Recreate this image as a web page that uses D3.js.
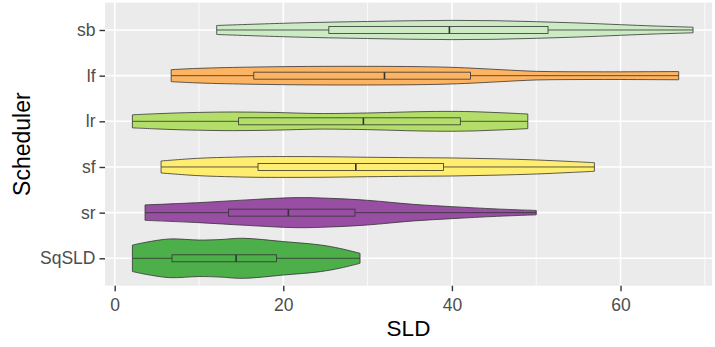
<!DOCTYPE html>
<html>
<head>
<meta charset="utf-8">
<script src="https://cdn.jsdelivr.net/npm/d3@7"></script>
<style>
  body { margin: 0; background: #fff; }
  text { font-family: "Liberation Sans", Arial, sans-serif; }
</style>
</head>
<body>
<svg class="main" width="715" height="347"></svg>
<script>
var SCHEDULERS = ["sb", "lf", "lr", "sf", "sr", "SqSLD"];
var COLORS = ["#CCEBC5", "#FDB462", "#B3DE69", "#FFED6F", "#984EA3", "#4DAF4A"];
var X_TICKS = [0, 20, 40, 60];

// boxplot stats: [min, q1, median, q3, max]
var STATS_SB = [12.1, 25.4, 39.7, 51.4, 68.6];
var STATS_LF = [6.7, 16.5, 32.0, 42.2, 66.9];
var STATS_LR = [2.1, 14.7, 29.5, 41.0, 49.0];
var STATS_SF = [5.5, 17.0, 28.6, 39.0, 56.9];
var STATS_SR = [3.6, 13.5, 20.6, 28.5, 50.0];
var STATS_SQ = [2.1, 6.8, 14.4, 19.2, 29.1];

// estimated density along SLD: [SLD, density]
var DENS_SB = [[12.1, 4.5], [20, 6.7], [25.4, 7.8], [30, 8.5], [35, 9.2], [40, 9.6], [45, 9.3], [50, 8.3], [55, 7.0], [60, 5.3], [64, 4.0], [68.6, 2.8]];
var DENS_LF = [[6.7, 6.0], [10, 7.3], [16.5, 8.6], [23, 9.2], [30, 9.3], [36, 9.0], [40, 8.3], [43, 7.2], [46, 5.9], [50, 4.3], [54, 3.9], [58, 3.8], [62, 3.9], [66.9, 4.1]];
var DENS_LR = [[2.1, 6.5], [5, 7.6], [8.5, 8.6], [14, 9.3], [19, 8.8], [24, 7.8], [27, 7.9], [31, 8.5], [36, 9.6], [40, 9.9], [43, 9.5], [46, 8.5], [49, 7.3]];
var DENS_SF = [[5.5, 6.0], [10, 8.7], [14, 9.8], [17, 10.3], [24, 10.3], [30, 9.7], [35, 9.3], [40, 9.0], [45, 8.2], [50, 7.0], [54, 5.5], [56.9, 4.3]];
var DENS_SR = [[3.6, 7.7], [10, 10.0], [15.6, 12.7], [21.6, 15.0], [25.5, 14.3], [30, 12.3], [35.4, 8.3], [40, 6.0], [45.3, 3.7], [50, 2.2]];
var DENS_SQ = [[2.1, 13.2], [3.7, 16], [6.5, 19.3], [10, 18.2], [12.5, 18.7], [15.2, 20], [20, 16.7], [24.4, 13.3], [26.8, 9.7], [29.1, 5]];

var STATS = [STATS_SB, STATS_LF, STATS_LR, STATS_SF, STATS_SR, STATS_SQ];
var DENS = [DENS_SB, DENS_LF, DENS_LR, DENS_SF, DENS_SR, DENS_SQ];

var svg = d3.select("svg.main");
var panel = { left: 105, top: 2.6, right: 712, bottom: 285.7 };

var x = d3.scaleLinear().domain([-1.15, 70.85]).range([panel.left, panel.right]);
var y = d3.scalePoint().domain(SCHEDULERS).range([panel.top, panel.bottom]).padding(0.6);
var band = y.step();
var w = d3.scaleLinear().domain([0, 20.5]).range([0, band * 0.45]);

// panel background + grid
svg.append("rect")
  .attr("x", panel.left).attr("y", panel.top)
  .attr("width", panel.right - panel.left).attr("height", panel.bottom - panel.top)
  .attr("fill", "#EBEBEB");

var minor = [10, 30, 50, 70];
svg.selectAll("line.minor").data(minor).enter().append("line")
  .attr("x1", function(d) { return x(d); }).attr("x2", function(d) { return x(d); })
  .attr("y1", panel.top).attr("y2", panel.bottom)
  .attr("stroke", "#fff").attr("stroke-width", 0.8);

svg.selectAll("line.majorx").data(X_TICKS).enter().append("line")
  .attr("x1", function(d) { return x(d); }).attr("x2", function(d) { return x(d); })
  .attr("y1", panel.top).attr("y2", panel.bottom)
  .attr("stroke", "#fff").attr("stroke-width", 1.6);

svg.selectAll("line.majory").data(SCHEDULERS).enter().append("line")
  .attr("x1", panel.left).attr("x2", panel.right)
  .attr("y1", function(d) { return y(d); }).attr("y2", function(d) { return y(d); })
  .attr("stroke", "#fff").attr("stroke-width", 1.6);

// violins
var outline = "#333333";
SCHEDULERS.forEach(function(s, i) {
  var cy = y(s);
  var area = d3.area()
    .x(function(d) { return x(d[0]); })
    .y0(function(d) { return cy - w(d[1]); })
    .y1(function(d) { return cy + w(d[1]); })
    .curve(d3.curveCatmullRom.alpha(0.5));

  svg.append("path")
    .datum(DENS[i])
    .attr("d", area)
    .attr("fill", COLORS[i])
    .attr("stroke", outline)
    .attr("stroke-width", 0.8);

  var st = STATS[i];
  var g = svg.append("g");
  g.append("line")
    .attr("x1", x(st[0])).attr("x2", x(st[1]))
    .attr("y1", cy).attr("y2", cy)
    .attr("stroke", outline).attr("stroke-width", 0.8);
  g.append("line")
    .attr("x1", x(st[3])).attr("x2", x(st[4]))
    .attr("y1", cy).attr("y2", cy)
    .attr("stroke", outline).attr("stroke-width", 0.8);
  g.append("rect")
    .attr("x", x(st[1])).attr("y", cy - 3.5)
    .attr("width", x(st[3]) - x(st[1])).attr("height", 7)
    .attr("fill", COLORS[i])
    .attr("stroke", outline).attr("stroke-width", 0.8);
  g.append("line")
    .attr("x1", x(st[2])).attr("x2", x(st[2]))
    .attr("y1", cy - 3.5).attr("y2", cy + 3.5)
    .attr("stroke", outline).attr("stroke-width", 1.6);
});

// axes
var xAxis = d3.axisBottom(x).tickValues(X_TICKS).tickSize(5.5).tickPadding(7);
var gx = svg.append("g").attr("transform", "translate(0," + panel.bottom + ")").call(xAxis);
gx.select(".domain").remove();
gx.selectAll(".tick line").attr("stroke", "#333").attr("stroke-width", 1.4);
gx.selectAll(".tick text").attr("fill", "#4D4D4D").style("font-size", "17.5px")
  .style("font-family", "'Liberation Sans', Arial, sans-serif");

var yAxis = d3.axisLeft(y).tickSize(5.5).tickPadding(4);
var gy = svg.append("g").attr("transform", "translate(" + panel.left + ",0)").call(yAxis);
gy.select(".domain").remove();
gy.selectAll(".tick line").attr("stroke", "#333").attr("stroke-width", 1.4);
gy.selectAll(".tick text").attr("fill", "#4D4D4D").style("font-size", "17.5px")
  .style("font-family", "'Liberation Sans', Arial, sans-serif");

svg.append("text")
  .attr("x", (panel.left + panel.right) / 2).attr("y", 336)
  .attr("text-anchor", "middle")
  .style("font-size", "22.5px").attr("fill", "#000")
  .text("SLD");

svg.append("text")
  .attr("transform", "translate(30," + ((panel.top + panel.bottom) / 2) + ")rotate(-90)")
  .attr("text-anchor", "middle")
  .style("font-size", "23px").attr("fill", "#000")
  .text("Scheduler");
</script>
</body>
</html>
